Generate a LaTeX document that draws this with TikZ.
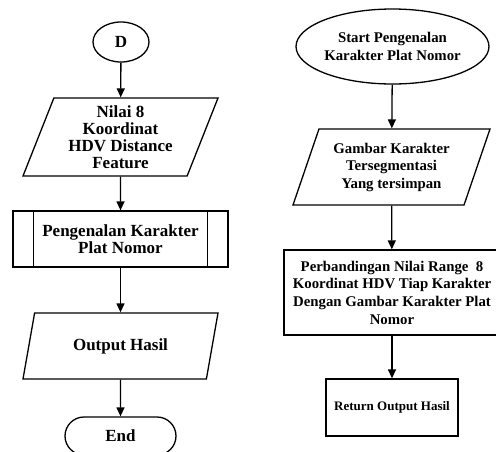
\documentclass[tikz,border=0pt]{standalone}
\usepackage{fontspec}
\setmainfont{Liberation Serif}
\usetikzlibrary{shapes.geometric, shapes.misc, arrows.meta}

\tikzset{
  box/.style={draw, line width=1.3pt, align=center, font=\bfseries, inner sep=1pt},
  io/.style={box, trapezium, trapezium stretches body, trapezium left angle=#1, trapezium right angle=180-#1},
  flow/.style={line width=1.3pt, -{Triangle[length=9pt,width=8pt]}}
}

\begin{document}
\begin{tikzpicture}[x=1pt,y=1pt,yscale=-1,xscale=1]
%set diagram size to 496 x 451
\path [use as bounding box, clip] (0,0) rectangle (496,451);

%Shape: Ellipse [id:dpD]
\node (conD) [box, ellipse, minimum width=56, minimum height=40, font=\bfseries\fontsize{17}{17}\selectfont] at (121,42) {D};
%Shape: Parallelogram [id:dpNilai]
\node (nilai) [io=64.6, minimum width=195, minimum height=78, font=\bfseries\fontsize{17}{17}\selectfont] at (120.5,137) {Nilai 8\\Koordinat\\HDV Distance\\Feature};
%Shape: Predefined Process [id:dpPengenalan]
\node (pengenalan) [box, rectangle, minimum width=215, minimum height=56, font=\bfseries\fontsize{17}{17}\selectfont] at (120.5,239) {Pengenalan Karakter\\Plat Nomor};
\draw [line width=1.3pt] ([xshift=21pt]pengenalan.north west) -- ([xshift=21pt]pengenalan.south west);
\draw [line width=1.3pt] ([xshift=-21pt]pengenalan.north east) -- ([xshift=-21pt]pengenalan.south east);
%Shape: Parallelogram [id:dpOutput]
\node (output) [io=56.3, minimum width=195, minimum height=66, font=\bfseries\fontsize{17}{17}\selectfont] at (120.5,346) {Output Hasil};
%Shape: Terminator [id:dpEnd]
\node (selesai) [box, rounded rectangle, minimum width=113, minimum height=38, font=\bfseries\fontsize{17}{17}\selectfont] at (120.5,436) {End};

%Shape: Ellipse [id:dpStart]
\node (mulai) [box, ellipse, minimum width=159, minimum height=75, inner sep=0pt, font=\bfseries\fontsize{14.8}{17.5}\selectfont] at (392.5,46.5) {Start Pengenalan\\Karakter Plat Nomor};
%Shape: Parallelogram [id:dpGambar]
\node (gambar) [io=62.8, minimum width=197, minimum height=76, font=\bfseries\fontsize{14.8}{17.5}\selectfont] at (391.5,167) {Gambar Karakter\\Tersegmentasi\\Yang tersimpan};
%Shape: Rectangle [id:dpBanding]
\node (banding) [box, rectangle, minimum width=216, minimum height=85, font=\bfseries\fontsize{14.8}{17.7}\selectfont] at (392,292.5) {Perbandingan Nilai Range~ 8\\Koordinat HDV Tiap Karakter\\Dengan Gambar Karakter Plat\\Nomor};
%Shape: Rectangle [id:dpReturn]
\node (kembali) [box, rectangle, minimum width=132, minimum height=57, font=\bfseries\fontsize{13}{15}\selectfont] at (392,407.5) {Return Output Hasil};

% Connectors
\draw [flow] (conD) -- (nilai);
\draw [flow] (nilai) -- (pengenalan);
\draw [flow] (pengenalan) -- (output);
\draw [flow] (output) -- (selesai);
\draw [flow] (mulai) -- (gambar);
\draw [flow] (gambar) -- (banding);
\draw [flow] (banding) -- (kembali);

\end{tikzpicture}
\end{document}
